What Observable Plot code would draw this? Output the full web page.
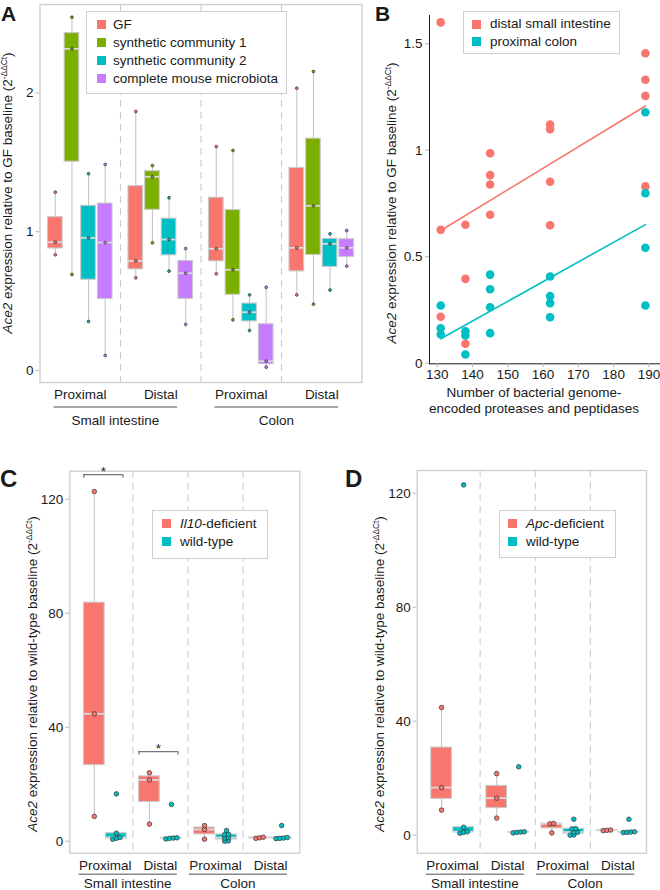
<!DOCTYPE html>
<html><head><meta charset="utf-8">
<script src="https://cdn.jsdelivr.net/npm/d3@7"></script>
<script src="https://cdn.jsdelivr.net/npm/@observablehq/plot@0.6"></script>
<style>
body{margin:0;background:#fff;}
#fig{position:relative;width:660px;height:890px;overflow:hidden;font-family:"Liberation Sans",Arial,sans-serif;color:#1a1a1a;background:#fff}
#fig svg{position:absolute;overflow:visible;font-size:13.5px !important;font-family:"Liberation Sans",Arial,sans-serif !important}
.ttl{position:absolute;white-space:nowrap;font-size:13.5px;line-height:1;transform:translate(-50%,-50%) rotate(-90deg)}
.ttl .sup{font-size:0.62em;position:relative;top:-0.62em}
.xl{position:absolute;white-space:nowrap;font-size:13.5px;line-height:16px;text-align:center;transform:translateX(-50%)}
.letter{position:absolute;font-weight:bold;line-height:1}
.legend{position:absolute;border:1px solid #cfcfcf;background:#fff;box-sizing:border-box}
.sw{position:absolute;width:9px;height:9px}
.tx{position:absolute;font-size:13.5px;line-height:1;white-space:nowrap}
svg [aria-label^="x-axis"] line, svg [aria-label^="x-axis"] path, svg [aria-label^="y-axis"] line, svg [aria-label^="y-axis"] path{stroke:#b5b5b5}
</style></head>
<body><div id="fig"></div>
<script>
// ---------- shared categories ----------
const regions = ["Proximal", "Distal", "Proximal", "Distal"];
const sections = ["Small intestine", "Colon"];
const sectionRegions = [[0, 1], [2, 3]];

// ---------- Panel A data (3 mice per box) ----------
const seriesA = ["GF", "synthetic community 1", "synthetic community 2", "complete mouse microbiota"];
const colorsA = ["#F8766D", "#7CAE00", "#00BFC4", "#C77CFF"];
const aGF  = [[0.834, 0.925, 1.285], [0.668, 0.790, 1.867], [0.697, 0.877, 1.614], [0.545, 0.884, 2.035]];
const aSC1 = [[0.692, 2.318, 2.546], [0.920, 1.396, 1.477], [0.365, 0.726, 1.586], [0.478, 1.187, 2.155]];
const aSC2 = [[0.353, 0.956, 1.418], [0.716, 0.944, 1.245], [0.288, 0.420, 0.545], [0.580, 0.913, 0.985]];
const aCMM = [[0.108, 0.922, 1.485], [0.332, 0.701, 0.879], [0.024, 0.067, 0.600], [0.752, 0.884, 1.009]];
const aTicks = [0, 1, 2];

// ---------- Panel B data ----------
const seriesB = ["distal small intestine", "proximal colon"];
const colorsB = ["#F8766D", "#00BFC4"];
const bProteases = [131, 131, 131, 138, 138, 138, 145, 145, 145, 145, 162, 162, 162, 162, 189, 189, 189, 189];
const bDistalSI  = [1.600, 0.626, 0.218, 0.650, 0.396, 0.091, 0.986, 0.883, 0.839, 0.697, 1.121, 1.099, 0.852, 0.648, 1.455, 1.331, 1.255, 0.830];
const bProxColon = [0.271, 0.164, 0.135, 0.150, 0.130, 0.041, 0.416, 0.347, 0.263, 0.141, 0.407, 0.315, 0.282, 0.216, 1.178, 0.798, 0.542, 0.271];
const bXTicks = [130, 140, 150, 160, 170, 180, 190];
const bYTicks = [0, 0.5, 1, 1.5];

// ---------- Panel C data ----------
const seriesC = ["Il10-deficient", "wild-type"];
const colorsCD = ["#F8766D", "#00BFC4"];
const cIl10 = [[8.7, 44.7, 122.7], [6.0, 21.5, 24.0], [0.7, 4.1, 5.5], [1.0, 1.2, 1.4]];
const cWT   = [[0.7, 1.0, 1.3, 2.8, 16.6], [0.8, 1.0, 1.1, 1.2, 12.9], [0.0, 0.1, 1.1, 1.25, 2.3, 2.4, 3.75], [0.9, 1.0, 1.1, 1.3, 5.5]];
const cSignif = [{region: 0, y: 128.6, label: "*"}, {region: 1, y: 31.4, label: "*"}];

// ---------- Panel D data ----------
const seriesD = ["Apc-deficient", "wild-type"];
const dApc = [[8.8, 16.7, 44.8], [6.0, 13.0, 21.6], [0.8, 4.0, 4.1], [1.6, 1.7, 1.8]];
const dWT  = [[0.7, 1.0, 1.2, 2.8, 122.9], [0.8, 1.0, 1.1, 1.2, 24.0], [0.0, 0.1, 1.0, 1.1, 2.2, 2.3, 5.6], [0.9, 1.0, 1.1, 1.2, 5.6]];
const cdTicks = [0, 40, 80, 120];

// ---------- helpers ----------
const fig = document.getElementById("fig");
const FONT = "13.5px 'Liberation Sans', Arial, sans-serif";
const ctx = document.createElement("canvas").getContext("2d");
function textW(s) { ctx.font = FONT; return ctx.measureText(s).width; }

function boxStats(vals) {
  const s = vals.slice().sort(d3.ascending);
  const q1 = d3.quantile(s, 0.25), med = d3.quantile(s, 0.5), q3 = d3.quantile(s, 0.75);
  const iqr = q3 - q1;
  const lo = d3.min(s.filter(v => v >= q1 - 1.5 * iqr));
  const hi = d3.max(s.filter(v => v <= q3 + 1.5 * iqr));
  return {q1, med, q3, lo, hi};
}
function swarm(values, pxPerUnit, gapPx) {
  const idx = d3.range(values.length).sort((a, b) => values[a] - values[b]);
  const off = new Array(values.length).fill(0);
  let row = [], start = null;
  const flush = () => { row.forEach((k, j) => off[k] = (j - (row.length - 1) / 2) * gapPx); row = []; };
  for (const k of idx) {
    if (start === null || (values[k] - start) * pxPerUnit >= 3) { flush(); start = values[k]; }
    row.push(k);
  }
  flush();
  return off;
}
function place(el, left, top, parent) { el.style.left = left + "px"; el.style.top = top + "px"; (parent || fig).appendChild(el); return el; }
function div(cls, html) { const d = document.createElement("div"); d.className = cls; d.innerHTML = html; return d; }

function boxPanel(cfg) {
  const {series, colors, sets, offsets, boxW, xDomain, yDomain, yTicks, width, height, m, dotR, dotStroke, swarmGap, extra} = cfg;
  const pxX = (width - m.left - m.right) / (xDomain[1] - xDomain[0]);
  const pxY = (height - m.top - m.bottom) / (yDomain[1] - yDomain[0]);
  const boxes = [], pts = [];
  series.forEach((name, si) => {
    sets[si].forEach((vals, gi) => {
      const pos = gi + offsets[si];
      boxes.push({series: name, pos, ...boxStats(vals)});
      const off = swarmGap ? swarm(vals, pxY, swarmGap) : vals.map(() => 0);
      vals.forEach((v, k) => pts.push({series: name, pos: pos + off[k] / pxX, value: v}));
    });
  });
  const plot = Plot.plot({
    width, height,
    marginLeft: m.left, marginRight: m.right, marginTop: m.top, marginBottom: m.bottom,
    style: {fontSize: "13.5px", fontFamily: "'Liberation Sans', Arial, sans-serif", color: "#1a1a1a", background: "transparent", overflow: "visible"},
    x: {domain: xDomain, ticks: d3.range(regions.length), tickFormat: i => regions[i], tickSize: 0, tickPadding: 7, label: null},
    y: {domain: yDomain, ticks: yTicks, tickSize: 4, tickPadding: 2.5, tickFormat: d3.format("~g"), label: null},
    color: {domain: series, range: colors},
    marks: [
      Plot.frame({stroke: "#d0d0d0", strokeWidth: 1.4}),
      Plot.ruleX(d3.range(1, regions.length).map(i => i - 0.5), {stroke: "#cdcdcd", strokeWidth: 1.1, strokeDasharray: "7,5"}),
      Plot.ruleX(boxes, {x: "pos", y1: "lo", y2: "hi", stroke: "#c6c6c6", strokeWidth: 1.1}),
      Plot.rect(boxes, {x1: d => d.pos - boxW / 2, x2: d => d.pos + boxW / 2, y1: "q1", y2: "q3", fill: "series", stroke: "#cacaca", strokeWidth: 1.1}),
      Plot.ruleY(boxes, {y: "med", x1: d => d.pos - boxW / 2, x2: d => d.pos + boxW / 2, stroke: "#d9d9d9", strokeWidth: 1.8}),
      Plot.dot(pts, {x: "pos", y: "value", r: dotR, fill: "series", stroke: dotStroke, strokeWidth: 0.7}),
      ...(extra || [])
    ]
  });
  return plot;
}

function sectionLabels(plot, m, height, lineDy, textDy) {
  const xs = plot.scale("x");
  const fx = d3.scaleLinear(xs.domain, xs.range);
  const svg = d3.select(plot);
  const yb = height - m.bottom;
  sections.forEach((name, k) => {
    const [r0, r1] = sectionRegions[k];
    const x1 = fx(r0) - textW(regions[r0]) / 2, x2 = fx(r1) + textW(regions[r1]) / 2;
    svg.append("line").attr("x1", x1).attr("x2", x2).attr("y1", yb + lineDy).attr("y2", yb + lineDy)
      .attr("stroke", "#8a8a8a").attr("stroke-width", 1.6);
    svg.append("text").attr("x", (x1 + x2) / 2).attr("y", yb + textDy).attr("text-anchor", "middle")
      .attr("fill", "#1a1a1a").style("font-size", "13.5px").text(name);
  });
}

function legend(box, items, colors, sw, textLeft, rows) {
  const L = div("legend", "");
  L.style.width = box.w + "px"; L.style.height = box.h + "px";
  place(L, box.x, box.y);
  items.forEach((html, i) => {
    const s = div("sw", ""); s.style.background = colors[i];
    place(s, sw, rows[i] - 4.5);
    const t = div("tx", html);
    place(t, textLeft, rows[i] - 6.6);
  });
}

// ---------- Panel A ----------
{
  const m = {left: 39.5, right: 8.5, top: 4, bottom: 48};
  const W = 370, H = 430;
  const plot = boxPanel({
    series: seriesA, colors: colorsA, sets: [aGF, aSC1, aSC2, aCMM],
    offsets: [-0.31, -0.103, 0.103, 0.31], boxW: 0.182,
    xDomain: [-0.5, 3.5], yDomain: [-0.0865, 2.638], yTicks: aTicks,
    width: W, height: H, m, dotR: 1.4, dotStroke: "#2b2b2b", swarmGap: 0
  });
  plot.style.left = "0px"; plot.style.top = "0px";
  fig.appendChild(plot);
  sectionLabels(plot, m, H, 25, 43);
  place(div("ttl", "<i>Ace2</i> expression relative to GF baseline (2<span class='sup'>-ΔΔCt</span>)"), 8.3, 193);
  legend({x: 86, y: 11, w: 201, h: 83}, seriesA, colorsA, 96.7, 113, [24.3, 42.7, 60.7, 78.7]);
  const l = div("letter", "A"); l.style.fontSize = "21px"; place(l, 1, 3);
}

// ---------- Panel B ----------
{
  const W = 290, H = 430;
  const pts = [];
  bProteases.forEach((x, i) => pts.push({series: seriesB[0], x, y: bDistalSI[i]}));
  bProteases.forEach((x, i) => pts.push({series: seriesB[1], x, y: bProxColon[i]}));
  const plot = Plot.plot({
    width: W, height: H, marginLeft: 59, marginRight: 1, marginTop: 15, marginBottom: 66.7,
    style: {fontSize: "13.5px", fontFamily: "'Liberation Sans', Arial, sans-serif", color: "#1a1a1a", background: "transparent", overflow: "visible"},
    x: {domain: [127.82, 193.0], ticks: bXTicks, tickSize: 4, tickPadding: 1.5, line: true, label: null},
    y: {domain: [-0.0028, 1.6324], ticks: bYTicks, tickSize: 4, tickPadding: 3, tickFormat: d3.format("~g"), line: true, label: null},
    color: {domain: seriesB, range: colorsB},
    marks: [
      Plot.dot(pts, {x: "x", y: "y", fill: "series", r: 4.3}),
      Plot.linearRegressionY(pts, {x: "x", y: "y", stroke: "series", ci: 0, strokeWidth: 1.6})
    ]
  });
  plot.style.left = "370px"; plot.style.top = "0px";
  fig.appendChild(plot);
  place(div("ttl", "<i>Ace2</i> expression relative to GF baseline (2<span class='sup'>-ΔΔCt</span>)"), 391.7, 202.5);
  place(div("xl", "Number of bacterial genome-<br>encoded proteases and peptidases"), 534, 385.3);
  legend({x: 463.3, y: 11, w: 157, h: 43}, seriesB, colorsB, 472, 490, [24, 41.7]);
  const l = div("letter", "B"); l.style.fontSize = "21px"; place(l, 375, 3);
}

// ---------- Panel C ----------
{
  const W = 330, H = 450;
  const m = {left: 69.3, right: 30.7, top: 30.7, bottom: 37.3};
  const span = [-0.39, 0.32], drop = 1.2;
  const extra = [
    Plot.ruleY(cSignif, {y: "y", x1: d => d.region + span[0], x2: d => d.region + span[1], stroke: "#555", strokeWidth: 1}),
    Plot.ruleX(cSignif, {x: d => d.region + span[0], y1: "y", y2: d => d.y - drop, stroke: "#555", strokeWidth: 1}),
    Plot.ruleX(cSignif, {x: d => d.region + span[1], y1: "y", y2: d => d.y - drop, stroke: "#555", strokeWidth: 1}),
    Plot.text(cSignif, {x: d => d.region + (span[0] + span[1]) / 2, y: "y", text: "label", dy: -3, fill: "#1a1a1a"})
  ];
  const plot = boxPanel({
    series: seriesC, colors: colorsCD, sets: [cIl10, cWT],
    offsets: [-0.2, 0.2], boxW: 0.375,
    xDomain: [-0.645, 3.53], yDomain: [-4.21, 129.82], yTicks: cdTicks,
    width: W, height: H, m, dotR: 2.3, dotStroke: "#333", swarmGap: 3.7, extra
  });
  plot.style.left = "0px"; plot.style.top = "440px";
  fig.appendChild(plot);
  sectionLabels(plot, m, H, 21.6, 35.5);
  place(div("ttl", "<i>Ace2</i> expression relative to wild-type baseline (2<span class='sup'>-ΔΔCt</span>)"), 33.3, 674.2);
  legend({x: 152.3, y: 510, w: 116, h: 49}, ["<i>Il10</i>-deficient", "wild-type"], colorsCD, 161.5, 180, [523.3, 541.7]);
  const l = div("letter", "C"); l.style.fontSize = "24px"; place(l, 0, 467);
}

// ---------- Panel D ----------
{
  const W = 330, H = 450;
  const m = {left: 86.7, right: 14, top: 30, bottom: 37.3};
  const plot = boxPanel({
    series: seriesD, colors: colorsCD, sets: [dApc, dWT],
    offsets: [-0.2, 0.2], boxW: 0.375,
    xDomain: [-0.6425, 3.519], yDomain: [-6.32, 127.96], yTicks: cdTicks,
    width: W, height: H, m, dotR: 2.3, dotStroke: "#333", swarmGap: 3.7, extra: []
  });
  plot.style.left = "330px"; plot.style.top = "440px";
  fig.appendChild(plot);
  sectionLabels(plot, m, H, 21.6, 35.5);
  place(div("ttl", "<i>Ace2</i> expression relative to wild-type baseline (2<span class='sup'>-ΔΔCt</span>)"), 380, 674);
  legend({x: 499, y: 510, w: 117, h: 48}, ["<i>Apc</i>-deficient", "wild-type"], colorsCD, 507.8, 526, [523.3, 541.7]);
  const l = div("letter", "D"); l.style.fontSize = "24px"; place(l, 345, 467);
}
</script></body></html>
